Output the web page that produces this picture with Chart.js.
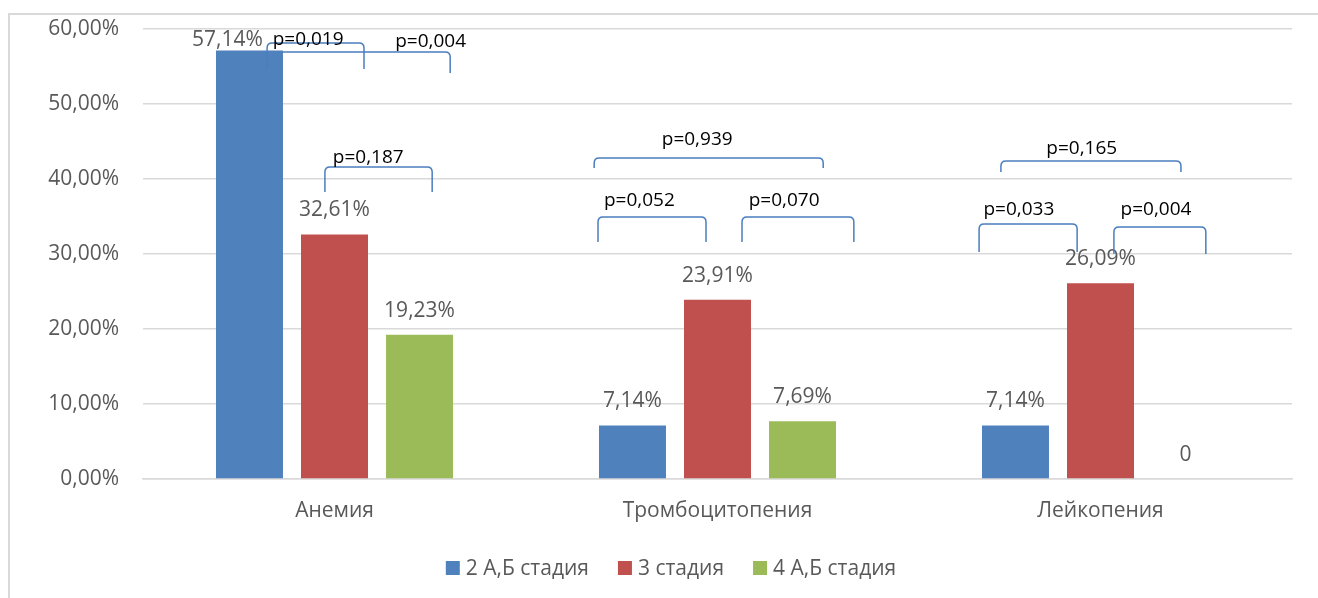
<!DOCTYPE html>
<html>
<head>
<meta charset="utf-8">
<script src="https://cdn.jsdelivr.net/npm/chart.js@4/dist/chart.umd.min.js"></script>
<style>
  html, body { margin: 0; padding: 0; background: #fff; }
  #frame { position: absolute; left: 8px; top: 13px; width: 1330px; height: 600px; border: 2px solid #d9d9d9; }
  #wrap { position: absolute; left: 0; top: 0; width: 1318px; height: 598px; }
</style>
</head>
<body>
<div id="frame"></div>
<div id="wrap"><canvas id="chart" width="1318" height="598"></canvas></div>
<script>
  const categories = ["Анемия", "Тромбоцитопения", "Лейкопения"];
  const seriesNames = ["2 А,Б стадия", "3 стадия", "4 А,Б стадия"];
  const stage2 = [57.14, 7.14, 7.14];
  const stage3 = [32.61, 23.91, 26.09];
  const stage4 = [19.23, 7.69, 0];
  const yTicks = [0, 10, 20, 30, 40, 50, 60];

  // brackets: x in category units, y in % (top line, leg end, label baseline)
  const brackets = [
    { text: "p=0,019", x1: -0.176, x2: 0.077, top: 58.13, leg: 54.67, lx: -0.069, ly: 57.87 },
    { text: "p=0,004", x1: -0.2, x2: 0.302, top: 56.93, leg: 54.13, lx: 0.251, ly: 57.6, behind: true },
    { text: "p=0,187", x1: -0.025, x2: 0.255, top: 41.6, leg: 38.27, lx: 0.088, ly: 42.13 },
    { text: "p=0,939", x1: 0.678, x2: 1.276, top: 42.8, leg: 41.47, lx: 0.947, ly: 44.53 },
    { text: "p=0,052", x1: 0.688, x2: 0.970, top: 34.93, leg: 31.6, lx: 0.796, ly: 36.4 },
    { text: "p=0,070", x1: 1.064, x2: 1.356, top: 34.93, leg: 31.6, lx: 1.174, ly: 36.4 },
    { text: "p=0,165", x1: 1.740, x2: 2.210, top: 42.4, leg: 40.93, lx: 1.951, ly: 43.33 },
    { text: "p=0,033", x1: 1.683, x2: 1.939, top: 34.0, leg: 30.27, lx: 1.787, ly: 35.2 },
    { text: "p=0,004", x1: 2.035, x2: 2.275, top: 33.6, leg: 30.0, lx: 2.145, ly: 35.2 }
  ];

  const FONT = "'Open Sans', 'DejaVu Sans', sans-serif";
  const GRAY = "#595959";
  const fmtPct = (v) => v.toFixed(2).replace(".", ",") + "%";

  function drawBracket(ctx, chart, b) {
    const xs = chart.scales.x, ys = chart.scales.y;
    const x1 = xs.getPixelForValue(b.x1), x2 = xs.getPixelForValue(b.x2);
    const yt = ys.getPixelForValue(b.top), yl = ys.getPixelForValue(b.leg);
    const r = 5;
    ctx.save();
    ctx.strokeStyle = "#4a7ebf";
    ctx.lineWidth = 1.5;
    ctx.beginPath();
    ctx.moveTo(x1, yl);
    ctx.lineTo(x1, yt + r);
    ctx.quadraticCurveTo(x1, yt, x1 + r, yt);
    ctx.lineTo(x2 - r, yt);
    ctx.quadraticCurveTo(x2, yt, x2, yt + r);
    ctx.lineTo(x2, yl);
    ctx.stroke();
    ctx.restore();
  }

  function drawBracketText(ctx, chart, b) {
    ctx.save();
    ctx.fillStyle = "#000";
    ctx.font = "19px " + FONT;
    ctx.textAlign = "center";
    ctx.textBaseline = "alphabetic";
    ctx.fillText(b.text, chart.scales.x.getPixelForValue(b.lx), chart.scales.y.getPixelForValue(b.ly));
    ctx.restore();
  }

  // legend drawn by hand so the item spacing can follow the original
  function drawLegend(chart) {
    const ctx = chart.ctx;
    const box = 14, gap = 6, itemGap = 29, cx = 671, cy = 568;
    ctx.save();
    ctx.font = "21px " + FONT;
    ctx.textBaseline = "middle";
    const items = chart.data.datasets.map((ds) => ({ label: ds.label, color: ds.backgroundColor, w: ctx.measureText(ds.label).width }));
    const total = items.reduce((s, it) => s + box + gap + it.w, 0) + itemGap * (items.length - 1);
    let x = cx - total / 2;
    items.forEach((it) => {
      ctx.fillStyle = it.color;
      ctx.fillRect(x, cy - box / 2, box, box);
      ctx.fillStyle = GRAY;
      ctx.fillText(it.label, x + box + gap, cy + 1);
      x += box + gap + it.w + itemGap;
    });
    ctx.restore();
  }

  const annotations = {
    id: "annotations",
    beforeDatasetsDraw(chart) {
      brackets.filter((b) => b.behind).forEach((b) => drawBracket(chart.ctx, chart, b));
    },
    afterDatasetsDraw(chart) {
      const ctx = chart.ctx;
      // value labels
      ctx.save();
      ctx.font = "21px " + FONT;
      ctx.fillStyle = GRAY;
      ctx.textAlign = "center";
      ctx.textBaseline = "middle";
      chart.data.datasets.forEach((ds, di) => {
        chart.getDatasetMeta(di).data.forEach((bar, i) => {
          const v = ds.data[i];
          const txt = v === 0 ? "0" : fmtPct(v);
          let x = bar.x, y = bar.y - 24;
          if (di === 0 && i === 0) { x = bar.x - 22; y = bar.y - 10; }
          ctx.fillText(txt, x, y);
        });
      });
      ctx.restore();
      brackets.filter((b) => !b.behind).forEach((b) => drawBracket(ctx, chart, b));
      brackets.forEach((b) => drawBracketText(ctx, chart, b));
    },
    afterDraw(chart) {
      drawLegend(chart);
    }
  };

  new Chart(document.getElementById("chart").getContext("2d"), {
    type: "bar",
    data: {
      labels: categories,
      datasets: [
        { label: seriesNames[0], data: stage2, backgroundColor: "#4f81bd" },
        { label: seriesNames[1], data: stage3, backgroundColor: "#c0504d" },
        { label: seriesNames[2], data: stage4, backgroundColor: "#9bbb59" }
      ]
    },
    options: {
      responsive: false,
      animation: false,
      devicePixelRatio: 1,
      layout: { padding: { left: 0, right: 26, top: 29, bottom: 0 } },
      datasets: { bar: { categoryPercentage: 0.666, barPercentage: 0.788 } },
      scales: {
        x: {
          grid: { display: false, drawTicks: false },
          border: { display: true, color: "#d9d9d9", width: 1.5 },
          ticks: { color: GRAY, font: { family: FONT, size: 21 }, padding: 19 },
          afterFit: (s) => { s.height = 119; s.paddingLeft = 0; s.paddingRight = 0; }
        },
        y: {
          min: 0,
          max: 60,
          afterBuildTicks: (s) => { s.ticks = yTicks.map((v) => ({ value: v })); },
          grid: { color: "#d9d9d9", lineWidth: 1.5, drawTicks: false },
          border: { display: false },
          ticks: { color: GRAY, font: { family: FONT, size: 21 }, padding: 24, callback: (v) => fmtPct(v) },
          afterFit: (s) => { s.width = 143; s.paddingTop = 0; s.paddingBottom = 0; }
        }
      },
      plugins: {
        legend: { display: false },
        tooltip: { enabled: false }
      }
    },
    plugins: [annotations]
  });
</script>
</body>
</html>
